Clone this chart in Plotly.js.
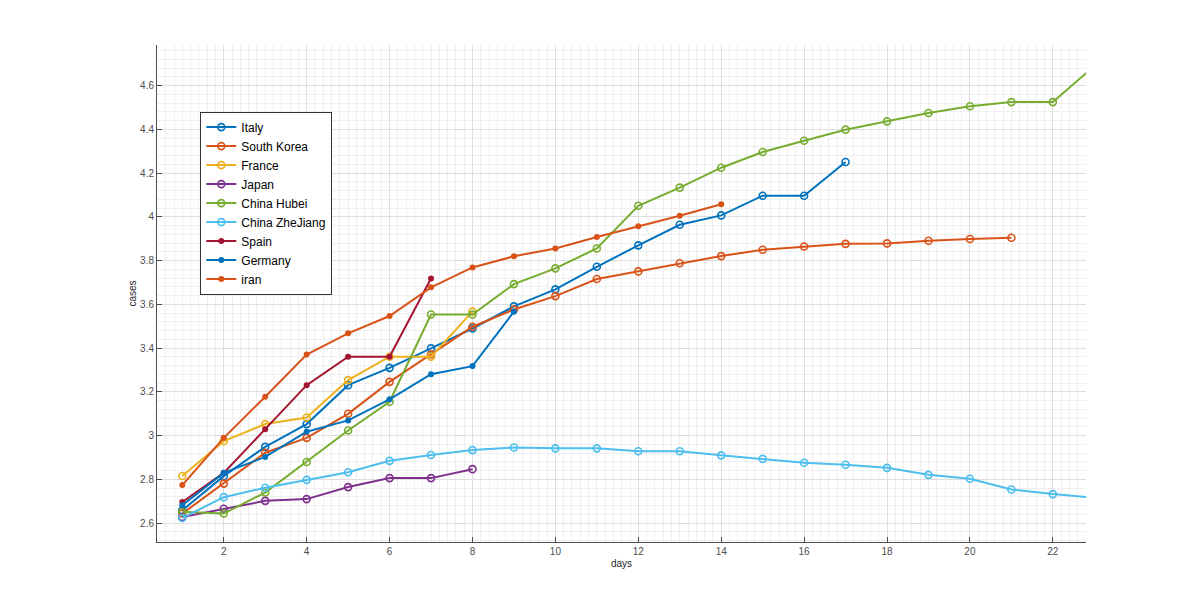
<!DOCTYPE html>
<html>
<head>
<meta charset="utf-8">
<script src="https://cdn.plot.ly/plotly-3.0.1.min.js"></script>
<style>html,body{margin:0;padding:0;background:#fff;}#chart{width:1200px;height:609px;}</style>
</head>
<body>
<div id="chart"></div>
<script>
const days = [1,2,3,4,5,6,7,8,9,10,11,12,13,14,15,16,17,18,19,20,21,22,23];
const seriesNames = ["Italy","South Korea","France","Japan","China Hubei","China ZheJiang","Spain","Germany","iran"];
const italy = [2.659,2.815,2.949,3.053,3.231,3.31,3.399,3.49,3.591,3.669,3.772,3.87,3.964,4.007,4.097,4.097,4.251];
const southKorea = [2.644,2.781,2.922,2.99,3.1,3.246,3.371,3.498,3.577,3.638,3.716,3.751,3.788,3.821,3.85,3.865,3.877,3.879,3.891,3.899,3.905];
const france = [2.816,2.975,3.053,3.083,3.254,3.361,3.361,3.567];
const japan = [2.628,2.666,2.702,2.71,2.765,2.806,2.806,2.847];
const chinaHubei = [2.652,2.644,2.74,2.88,3.024,3.155,3.554,3.554,3.693,3.765,3.856,4.051,4.134,4.225,4.297,4.348,4.399,4.437,4.475,4.506,4.525,4.525,4.69];
const chinaZheJiang = [2.624,2.719,2.762,2.798,2.833,2.885,2.912,2.934,2.946,2.942,2.942,2.929,2.929,2.91,2.894,2.876,2.867,2.853,2.821,2.803,2.754,2.733,2.717];
const spain = [2.697,2.83,3.03,3.231,3.361,3.361,3.719];
const germany = [2.682,2.83,2.903,3.018,3.07,3.166,3.281,3.318,3.567];
const iran = [2.774,2.99,3.178,3.371,3.468,3.547,3.678,3.769,3.82,3.856,3.908,3.957,4.005,4.058];

const allValues = [italy,southKorea,france,japan,chinaHubei,chinaZheJiang,spain,germany,iran];
const colors = ["#0072BD","#D95319","#EDB120","#7E2F8E","#77AC30","#4DBEEE","#A2142F","#0072BD","#D95319"];
const filled = [false,false,false,false,false,false,true,true,true];

const traces = allValues.map((vals,i)=>({
  x: days.slice(0, vals.length),
  y: vals,
  name: seriesNames[i],
  type: 'scatter',
  mode: 'lines+markers',
  line: {color: colors[i], width: 2},
  marker: filled[i]
    ? {symbol:'circle', size:6, color: colors[i]}
    : {symbol:'circle-open', size:7, color: colors[i], line:{width:1.6, color: colors[i]}},
  cliponaxis: true
}));

const axisFont = {family:'Arial, "Liberation Sans", Helvetica, sans-serif', size:10, color:'#4d4d4d'};
const layout = {
  width:1200, height:609,
  margin:{l:157, r:114, t:45, b:67, pad:0},
  paper_bgcolor:'#ffffff', plot_bgcolor:'#ffffff',
  showlegend:true,
  legend:{
    x:0.0466, y:0.866, xanchor:'left', yanchor:'top',
    bgcolor:'#ffffff', bordercolor:'#333333', borderwidth:1,
    font:{family:'Arial, "Liberation Sans", Helvetica, sans-serif', size:12, color:'#000000'},
    itemwidth:30, tracegroupgap:0
  },
  xaxis:{
    range:[0.39, 22.8], tick0:0, dtick:2, ticks:'inside', ticklen:5, tickcolor:'#4d4d4d',
    showline:true, linecolor:'#4d4d4d', linewidth:1, mirror:false,
    showgrid:true, gridcolor:'#dedede', gridwidth:1, zeroline:false,
    minor:{dtick:0.2, showgrid:true, gridcolor:'#efefef', gridwidth:1},
    tickfont:axisFont,
    title:{text:'days', font:{family:'Arial, "Liberation Sans", Helvetica, sans-serif', size:10, color:'#262626'}, standoff:3}
  },
  yaxis:{
    range:[2.514, 4.786], tick0:2.6, dtick:0.2, ticks:'inside', ticklen:5, tickcolor:'#4d4d4d',
    showline:true, linecolor:'#4d4d4d', linewidth:1, mirror:false,
    showgrid:true, gridcolor:'#dedede', gridwidth:1, zeroline:false,
    minor:{dtick:0.04, showgrid:true, gridcolor:'#efefef', gridwidth:1},
    tickfont:axisFont,
    title:{text:'cases', font:{family:'Arial, "Liberation Sans", Helvetica, sans-serif', size:10, color:'#262626'}, standoff:1}
  }
};
Plotly.newPlot('chart', traces, layout, {displayModeBar:false, staticPlot:true});
</script>
</body>
</html>
